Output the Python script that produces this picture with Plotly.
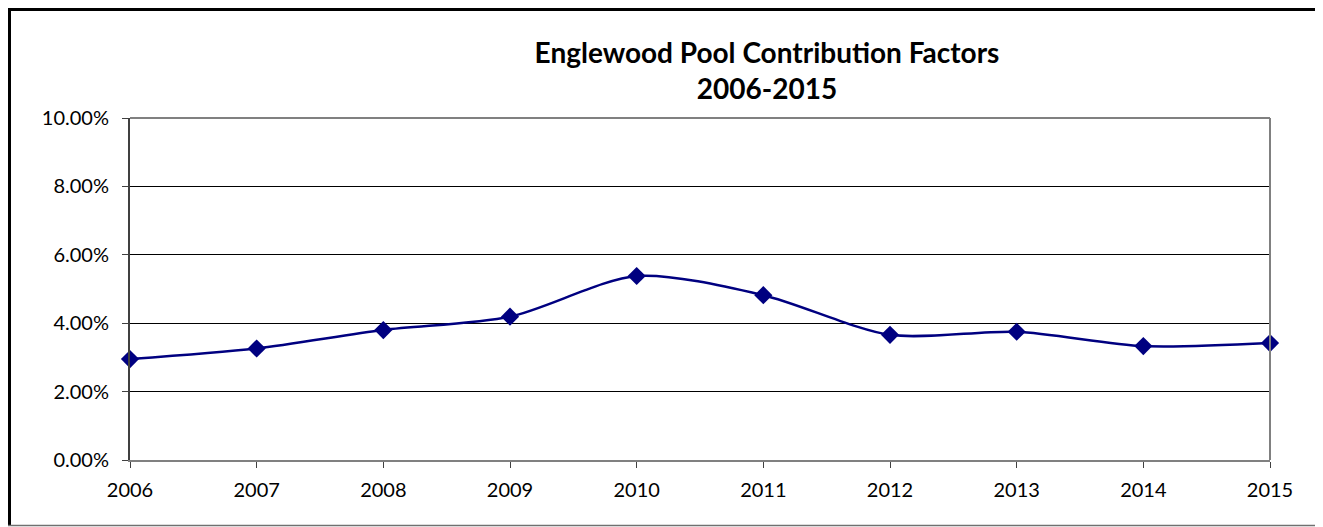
import plotly.graph_objects as go

years = [2006, 2007, 2008, 2009, 2010, 2011, 2012, 2013, 2014, 2015]
factors = [0.0295, 0.0326, 0.0380, 0.0419, 0.0538, 0.0482, 0.0366, 0.0375, 0.0333, 0.0342]
y_ticks = [0, 0.02, 0.04, 0.06, 0.08, 0.10]
y_tick_labels = ["0.00%", "2.00%", "4.00%", "6.00%", "8.00%", "10.00%"]
title_lines = ["Englewood Pool Contribution Factors", "2006-2015"]

# page body margin offset (figure is drawn 8px in from the window corner)
O = 8
W, H = 1323 - O, 527 - O
L, R, T, B = 130 - O, 1270 - O, 118 - O, 460 - O

def px_x(p):
    return (p - O - L) / (R - L)

def px_y(q):
    return (B - (q - O)) / (B - T)

fig = go.Figure()
fig.add_trace(go.Scatter(
    x=years, y=factors, mode="lines+markers",
    line=dict(color="#000080", width=2.5, shape="spline", smoothing=0.8),
    marker=dict(symbol="diamond", size=14, color="#000080"),
    cliponaxis=False, showlegend=False,
))

font_family = "Lato, Liberation Sans, Arial"

fig.update_layout(
    width=W, height=H,
    margin=dict(l=L, r=W - R, t=T, b=H - B),
    paper_bgcolor="white", plot_bgcolor="white",
    font=dict(family=font_family, size=20, color="black"),
    title=dict(
        text="<b>" + "<br>".join(title_lines) + "</b>",
        xref="paper", yref="container",
        x=px_x(767), xanchor="center", y=1 - (63 - O) / H, yanchor="middle",
        font=dict(family=font_family, size=28, color="black"),
    ),
    xaxis=dict(
        range=[years[0], years[-1]], tickmode="array", tickvals=years,
        ticktext=[str(y) for y in years],
        showgrid=False, zeroline=False,
        showline=True, linecolor="#808080", linewidth=2,
        ticks="outside", ticklen=6, tickcolor="#404040", tickwidth=1,
        ticklabelstandoff=5,
        tickfont=dict(size=20),
    ),
    yaxis=dict(
        range=[0, 0.10], tickmode="array", tickvals=y_ticks, ticktext=y_tick_labels,
        showgrid=True, gridcolor="black", gridwidth=1, zeroline=False,
        showline=True, linecolor="#404040", linewidth=2,
        ticks="outside", ticklen=6, tickcolor="#404040", tickwidth=1,
        ticklabelstandoff=9,
        tickfont=dict(size=20),
    ),
    shapes=[
        # plot area top and right border (gray)
        dict(type="line", xref="paper", yref="paper", x0=0, x1=1, y0=1, y1=1,
             line=dict(color="#808080", width=2)),
        dict(type="line", xref="paper", yref="paper", x0=1, x1=1, y0=0, y1=1,
             line=dict(color="#808080", width=2)),
        # outer frame
        dict(type="line", xref="paper", yref="paper", x0=px_x(8), x1=px_x(1322), y0=px_y(8), y1=px_y(8),
             line=dict(color="black", width=6)),
        dict(type="line", xref="paper", yref="paper", x0=px_x(8), x1=px_x(8), y0=px_y(8), y1=px_y(526),
             line=dict(color="black", width=6)),
        dict(type="line", xref="paper", yref="paper", x0=px_x(1321), x1=px_x(1321), y0=px_y(8), y1=px_y(526),
             line=dict(color="black", width=1.5)),
        dict(type="line", xref="paper", yref="paper", x0=px_x(8), x1=px_x(1321), y0=px_y(525.5), y1=px_y(525.5),
             line=dict(color="#707070", width=1.5)),
    ],
)

fig.write_html("out.html")
